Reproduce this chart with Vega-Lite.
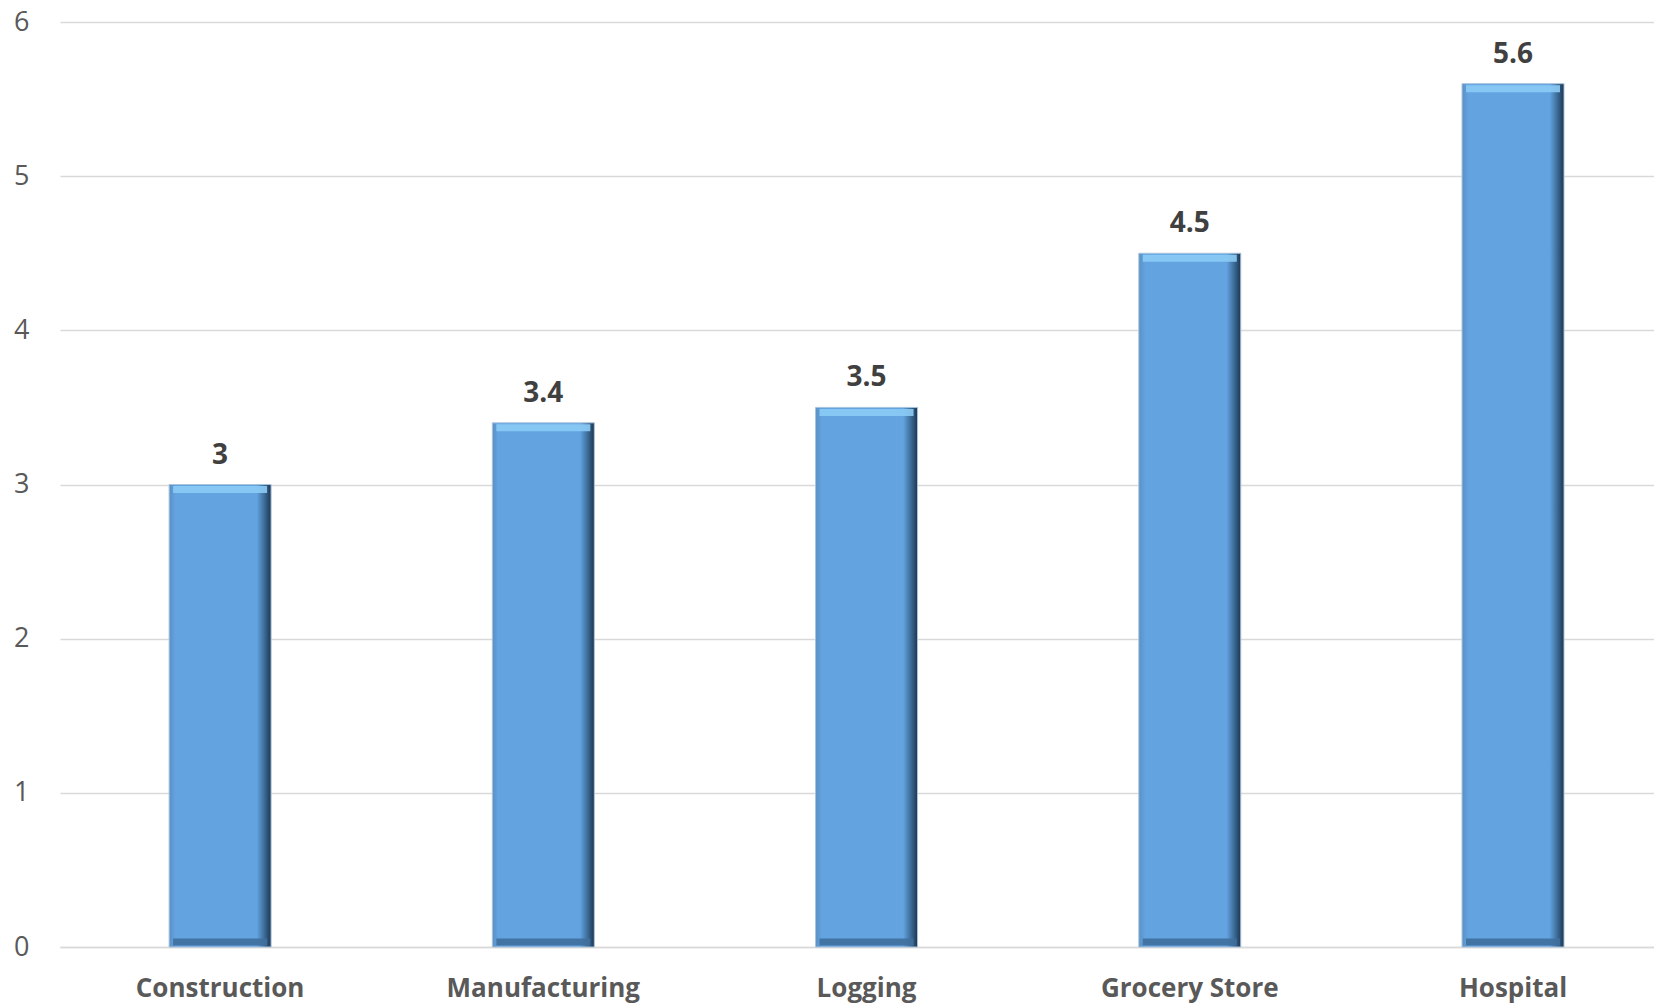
{
  "$schema": "https://vega.github.io/schema/vega-lite/v6.json",
  "width": 1594,
  "height": 925,
  "autosize": {"type": "none"},
  "padding": {"left": 60, "top": 22, "right": 0, "bottom": 60},
  "background": "white",
  "config": {"view": {"stroke": null}, "font": "Open Sans"},
  "data": {"values": [
    {"category": "Construction", "value": 3},
    {"category": "Manufacturing", "value": 3.4},
    {"category": "Logging", "value": 3.5},
    {"category": "Grocery Store", "value": 4.5},
    {"category": "Hospital", "value": 5.6}
  ]},
  "encoding": {
    "x": {
      "field": "category", "type": "nominal", "sort": null,
      "scale": {"paddingInner": 0.6845, "paddingOuter": 0.308, "align": 0.548},
      "axis": {"title": null, "labelAngle": 0, "ticks": false, "domain": true, "domainColor": "#d9d9d9", "domainWidth": 1.5,
               "labelFont": "Open Sans", "labelFontWeight": "bold", "labelFontSize": 26, "labelColor": "#595959", "labelPadding": 28,
               "labelLimit": 0, "labelOverlap": false}
    },
    "y": {
      "field": "value", "type": "quantitative",
      "scale": {"domain": [0, 6], "nice": false},
      "axis": {"title": null, "values": [0,1,2,3,4,5,6], "ticks": false, "domain": false, "labelOverlap": false,
               "gridColor": "#d9d9d9", "gridWidth": 1.5, "labelFont": "Open Sans", "labelFontSize": 27,
               "labelColor": "#595959", "labelPadding": 31}
    }
  },
  "layer": [
    {
      "mark": {"type": "bar", "stroke": "#a9c3dc", "strokeWidth": 1,
        "color": {"gradient": "linear", "x1": 0, "y1": 0, "x2": 1, "y2": 0,
          "stops": [
            {"offset": 0, "color": "#5a8fc2"},
            {"offset": 0.06, "color": "#62a3e0"},
            {"offset": 0.86, "color": "#62a3e0"},
            {"offset": 0.93, "color": "#3f6f9c"},
            {"offset": 1, "color": "#1c3550"}
          ]}}
    },
    {
      "mark": {"type": "tick", "orient": "horizontal", "size": 94, "thickness": 7, "yOffset": 5, "color": "#8ccbf5", "opacity": 0.9}
    },
    {
      "mark": {"type": "tick", "orient": "horizontal", "size": 94, "thickness": 7, "yOffset": -5, "color": "#3f6f9c", "opacity": 0.9},
      "encoding": {"y": {"datum": 0, "type": "quantitative"}}
    },
    {
      "mark": {"type": "text", "baseline": "alphabetic", "dy": -21, "font": "Open Sans", "fontWeight": "bold", "fontSize": 28, "color": "#404040"},
      "encoding": {"text": {"field": "value", "type": "quantitative"}}
    }
  ]
}
